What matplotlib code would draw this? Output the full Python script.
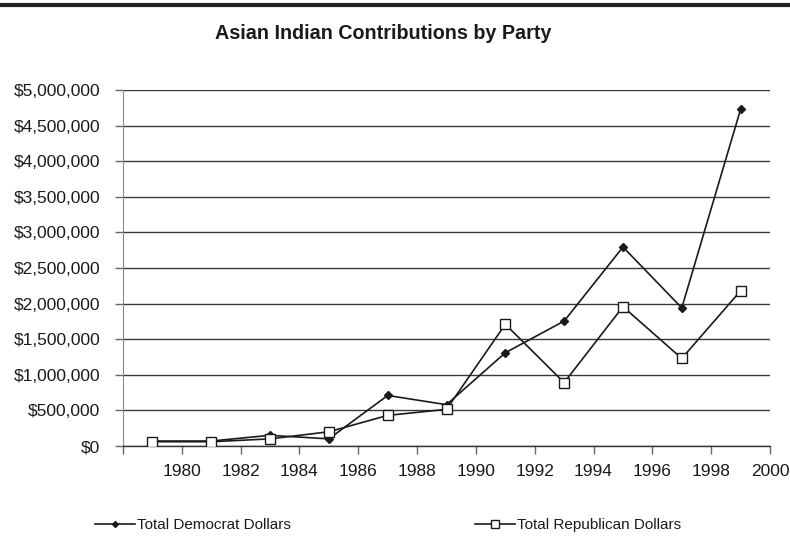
import matplotlib
matplotlib.use("Agg")
import matplotlib.pyplot as plt
from matplotlib.ticker import FuncFormatter, FixedLocator
from matplotlib.lines import Line2D

plt.rcParams['font.family'] = ['Liberation Sans', 'DejaVu Sans']

years = [1979, 1981, 1983, 1985, 1987, 1989, 1991, 1993, 1995, 1997, 1999]
democrat = [70000, 70000, 150000, 100000, 710000, 580000, 1310000, 1755000, 2795000, 1940000, 4730000]
republican = [60000, 60000, 100000, 200000, 430000, 515000, 1710000, 890000, 1957000, 1230000, 2180000]
x_ticks = list(range(1978, 2001, 2))
x_labels = [""] + [str(y) for y in range(1980, 2001, 2)]
y_ticks = list(range(0, 5000001, 500000))

fig = plt.figure(figsize=(7.9, 5.38), dpi=100)
ax = fig.add_axes([0.1557, 0.171, 0.819, 0.6617])

ax.set_xlim(1978, 2000)
ax.set_ylim(0, 5000000)
ax.yaxis.set_major_locator(FixedLocator(y_ticks))
ax.yaxis.set_major_formatter(FuncFormatter(lambda v, p: "$0" if v == 0 else "${:,.0f}".format(v)))
ax.set_xticks(x_ticks)
ax.set_xticklabels(x_labels)

ax.grid(axis='y', color='#3a3a3a', linewidth=1.0)
ax.set_axisbelow(True)
for s in ['top', 'right']:
    ax.spines[s].set_visible(False)
ax.spines['left'].set_color('#888888')
ax.spines['bottom'].set_color('#333333')
ax.spines['bottom'].set_linewidth(1.0)
ax.tick_params(axis='both', direction='out', length=6, width=1, color='#666666',
               labelsize=12.5, labelcolor='#1a1a1a')
ax.tick_params(axis='y', pad=10.5)
ax.tick_params(axis='x', pad=7)

l1, = ax.plot(years, democrat, color='#1a1a1a', linewidth=1.2, marker='D', markersize=4,
              markerfacecolor='#1a1a1a', markeredgecolor='#1a1a1a', zorder=3)
l2, = ax.plot(years, republican, color='#1a1a1a', linewidth=1.2, marker='s', markersize=7,
              markerfacecolor='white', markeredgecolor='#1a1a1a', markeredgewidth=1.0, zorder=4)

fig.text(0.485, 0.938, "Asian Indian Contributions by Party", ha='center', va='center',
         fontsize=14.2, fontweight='bold', color='#1a1a1a')

# top border line
fig.add_artist(Line2D([0, 1], [0.991, 0.991], transform=fig.transFigure, color='#222222', linewidth=3))

h1 = Line2D([], [], color='#1a1a1a', linewidth=1.2, marker='D', markersize=3,
            markerfacecolor='#1a1a1a', markeredgecolor='#1a1a1a')
h2 = Line2D([], [], color='#1a1a1a', linewidth=1.2, marker='s', markersize=6,
            markerfacecolor='white', markeredgecolor='#1a1a1a', markeredgewidth=1.0)
leg1 = fig.legend([h1], ["Total Democrat Dollars"], loc='center left', bbox_to_anchor=(0.113, 0.024),
                  frameon=False, fontsize=11, handlelength=2.6, handletextpad=0.1, borderaxespad=0)
leg2 = fig.legend([h2], ["Total Republican Dollars"], loc='center left', bbox_to_anchor=(0.594, 0.024),
                  frameon=False, fontsize=11, handlelength=2.6, handletextpad=0.1, borderaxespad=0)
for lg in (leg1, leg2):
    for t in lg.get_texts():
        t.set_color('#1a1a1a')

fig.savefig("out.png", dpi=100)
